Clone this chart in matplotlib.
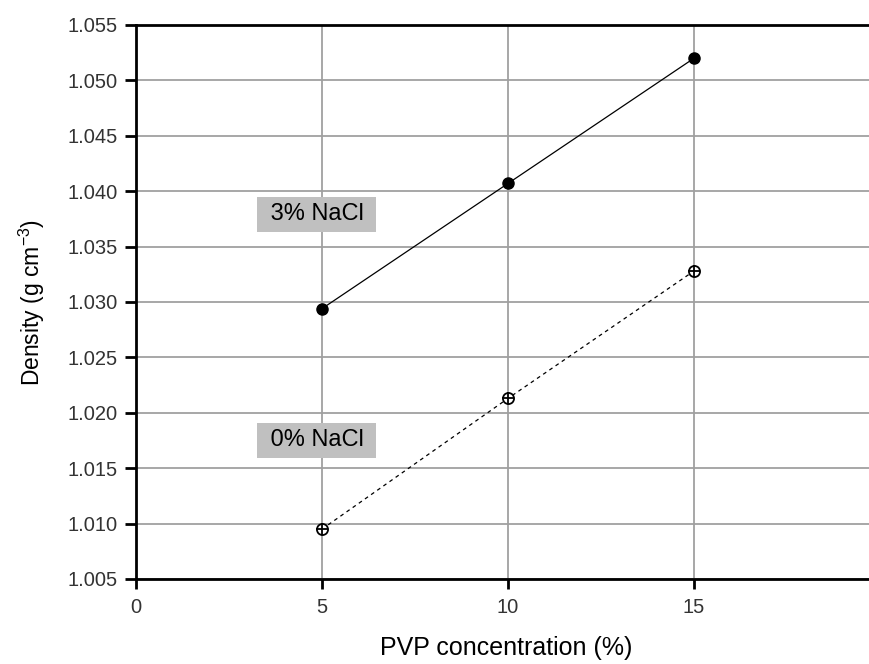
import matplotlib
matplotlib.use("Agg")
import matplotlib.pyplot as plt

plt.rcParams['font.family'] = ['Liberation Sans', 'DejaVu Sans']
plt.rcParams['mathtext.fontset'] = 'custom'
plt.rcParams['mathtext.rm'] = 'Liberation Sans'
plt.rcParams['mathtext.it'] = 'Liberation Sans:italic'

# データ
pvp = [5, 10, 15]
density_3nacl = [1.0294, 1.0407, 1.0520]
density_0nacl = [1.0095, 1.0213, 1.0328]
x_ticks = [0, 5, 10, 15]
y_ticks = [1.005, 1.010, 1.015, 1.020, 1.025, 1.030, 1.035, 1.040, 1.045, 1.050, 1.055]

fig = plt.figure(figsize=(8.69, 6.64), dpi=100)
ax = fig.add_axes([136 / 869, 1 - 579 / 664, 1 - 136 / 869, (579 - 25) / 664])

ax.set_xlim(0, (869 - 136) / 37.2)
ax.set_ylim(1.005, 1.055)
ax.set_xticks(x_ticks)
ax.set_yticks(y_ticks)
ax.set_yticklabels([f"{v:.3f}" for v in y_ticks])

ax.grid(True, color='#a0a0a0', linewidth=1.3)
ax.set_axisbelow(True)

ax.plot(pvp, density_3nacl, color='black', linewidth=0.9, marker='o',
        markersize=8, markerfacecolor='black', zorder=3)
ax.plot(pvp, density_0nacl, color='black', linewidth=0.9, linestyle=(0, (3, 3)),
        marker='o', markersize=8, markerfacecolor='white',
        markeredgecolor='black', markeredgewidth=1.3, zorder=3)
ax.plot(pvp, density_0nacl, linestyle='none', marker='+', markersize=8,
        color='black', markeredgewidth=1.3, zorder=4)

# ラベル（灰色の箱）
box = dict(boxstyle='square,pad=0.27', facecolor='#c0c0c0', edgecolor='none')
ax.text(4.86, 1.0379, ' 3% NaCl ', fontsize=17, ha='center', va='center', bbox=box)
ax.text(4.86, 1.0175, ' 0% NaCl ', fontsize=17, ha='center', va='center', bbox=box)

for side in ['top', 'bottom', 'left']:
    ax.spines[side].set_linewidth(2)
    ax.spines[side].set_color('black')
ax.spines['right'].set_visible(False)

ax.tick_params(axis='both', direction='out', width=2, color='black',
               labelsize=14.5, labelcolor='#333333')
ax.tick_params(axis='x', length=7, pad=7)
ax.tick_params(axis='y', length=8, pad=5)

ax.set_xlabel('PVP concentration (%)', fontsize=18, va='center', ha='center')
ax.set_ylabel('Density (g cm$^{-3}$)', fontsize=16.5, va='center', ha='center')
ax.xaxis.set_label_coords((506 - 136) / 733, (579 - 648) / 554)
ax.yaxis.set_label_coords((32 - 136) / 733, 0.5)

fig.savefig('out.png', dpi=100)
